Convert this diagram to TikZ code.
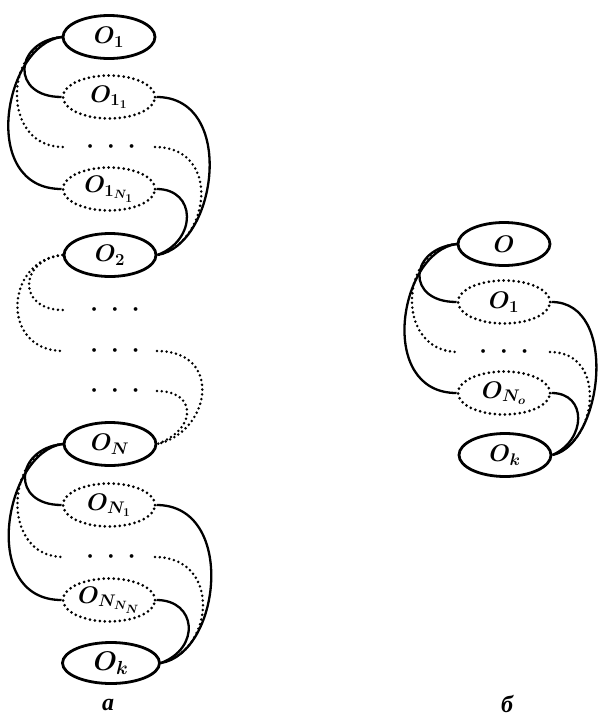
\RequirePackage{fix-cm}
\documentclass[tikz,border=0pt]{standalone}
\usepackage{fontspec}
\newfontfamily\labfont{Liberation Serif}
\usetikzlibrary{shapes.geometric}
\tikzset{
  obj/.style={ellipse, draw, line width=2.8pt, minimum width=92pt, minimum height=43pt, inner sep=0pt, font=\fontsize{24}{24}\selectfont\boldmath},
  dobj/.style={obj, line width=3pt, dash pattern=on 0pt off 5pt, line cap=round},
  link/.style={line width=2.3pt},
  dlink/.style={line width=2.8pt, dash pattern=on 0pt off 4.8pt, line cap=round},
  dotrow/.style={inner sep=0pt, font=\fontsize{24}{24}\selectfont\boldmath},
  lab/.style={inner sep=0pt, font=\labfont\bfseries\itshape\fontsize{24}{24}\selectfont}
}
\newcommand{\tridots}{$\cdot\hspace{7pt}\cdot\hspace{7pt}\cdot$}
\begin{document}
\begin{tikzpicture}[x=1pt,y=-1pt]
\useasboundingbox (0,0) rectangle (598,718);
% ---------- left column ----------
\node[obj]  (O1)   at (109,37)  {$O_1$};
\node[dobj] (O11)  at (109,97)  {$O_{1_1}$};
\node[dotrow] (d1) at (111,147) {\tridots};
\coordinate (d1l) at (63,147);
\coordinate (d1r) at (155,147);
\node[dobj] (O1N)  at (109,189) {$O_{1_{N_1}}$};
\node[obj]  (O2)   at (110,255) {$O_2$};
\node[dotrow] (m1) at (115,310) {\tridots};
\node[dotrow] (m2) at (115,351) {\tridots};
\node[dotrow] (m3) at (115,391) {\tridots};
\coordinate (m1l) at (63,310);
\coordinate (m2l) at (63,351);
\coordinate (m2r) at (157,351);
\coordinate (m3r) at (157,391);
\node[obj]  (ON)   at (110,444) {$O_N$};
\node[dobj] (ON1)  at (109,505) {$O_{N_1}$};
\node[dotrow] (d3) at (111,557) {\tridots};
\coordinate (d3l) at (63,557);
\coordinate (d3r) at (155,557);
\node[dobj] (ONN)  at (109,600) {$O_{N_{N_N}}$};
\node[obj, minimum width=97pt, minimum height=41pt, font=\fontsize{27}{27}\selectfont\boldmath] (Ok) at (111,663) {$O_k$};
\node[lab] (la) at (108,705) {a};
% top group
\draw[link]  (O1.west) .. controls +(-48,5) and +(-51,0) .. (O11.west);
\draw[dlink] (O1.west) .. controls +(-58,5) and +(-63,0) .. (d1l);
\draw[link]  (O1.west) .. controls +(-58,8) and +(-83,0) .. (O1N.west);
\draw[link]  (O11.east) .. controls +(80,0) and +(60,-10) .. (O2.east);
\draw[dlink] (d1r) .. controls +(67,0) and +(53,-12) .. (O2.east);
\draw[link]  (O1N.east) .. controls +(40,0) and +(40,-15) .. (O2.east);
% middle group
\draw[dlink] (O2.west) .. controls +(-44,5) and +(-46,0) .. (m1l);
\draw[dlink] (O2.west) .. controls +(-58,5) and +(-63,0) .. (m2l);
\draw[dlink] (m2r) .. controls +(67,0) and +(53,-12) .. (ON.east);
\draw[dlink] (m3r) .. controls +(40,0) and +(40,-15) .. (ON.east);
% bottom group
\draw[link]  (ON.west) .. controls +(-48,5) and +(-51,0) .. (ON1.west);
\draw[dlink] (ON.west) .. controls +(-58,5) and +(-63,0) .. (d3l);
\draw[link]  (ON.west) .. controls +(-58,8) and +(-83,0) .. (ONN.west);
\draw[link]  (ON1.east) .. controls +(80,0) and +(60,-10) .. (Ok.east);
\draw[dlink] (d3r) .. controls +(67,0) and +(53,-12) .. (Ok.east);
\draw[link]  (ONN.east) .. controls +(40,0) and +(40,-15) .. (Ok.east);
% ---------- right column ----------
\node[obj]  (R0)  at (504,244) {$O$};
\node[dobj] (R1)  at (504,302) {$O_1$};
\node[dotrow] (rd) at (504,352) {\tridots};
\coordinate (rdl) at (458,352);
\coordinate (rdr) at (550,352);
\node[dobj] (RN)  at (504,393) {$O_{N_o}$};
\node[obj]  (RK)  at (505,455) {$O_k$};
\node[lab] (lb) at (507,704) {б};
\draw[link]  (R0.west) .. controls +(-48,5) and +(-51,0) .. (R1.west);
\draw[dlink] (R0.west) .. controls +(-58,5) and +(-63,0) .. (rdl);
\draw[link]  (R0.west) .. controls +(-58,8) and +(-80,0) .. (RN.west);
\draw[link]  (R1.east) .. controls +(68,0) and +(50,-10) .. (RK.east);
\draw[dlink] (rdr) .. controls +(58,0) and +(45,-12) .. (RK.east);
\draw[link]  (RN.east) .. controls +(36,0) and +(34,-15) .. (RK.east);
\end{tikzpicture}
\end{document}
